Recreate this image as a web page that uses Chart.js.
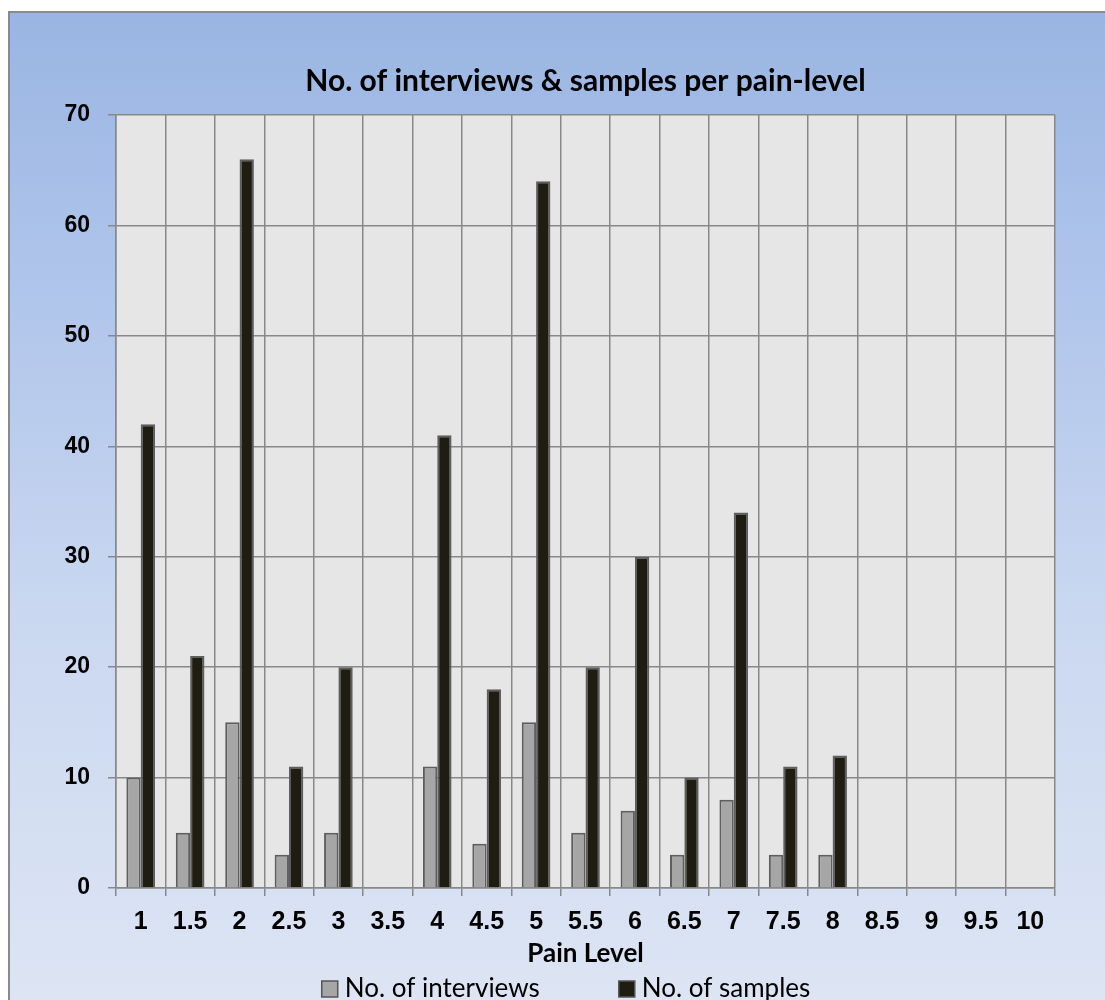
<!DOCTYPE html>
<html lang="en">
<head>
  <meta charset="UTF-8">
  <title>No. of interviews & samples per pain-level</title>
  <script src="https://cdn.jsdelivr.net/npm/chart.js"></script>
  <style>
    html, body { margin: 0; padding: 0; background: #fff; }
    #chart { display: block; }
  </style>
</head>
<body>
  <canvas id="chart" width="1105" height="1000"></canvas>

  <script>
    const painLevels = ['1', '1.5', '2', '2.5', '3', '3.5', '4', '4.5', '5', '5.5',
                        '6', '6.5', '7', '7.5', '8', '8.5', '9', '9.5', '10'];
    const interviews = [10, 5, 15, 3, 5, null, 11, 4, 15, 5, 7, 3, 8, 3, 3, null, null, null, null];
    const samples    = [42, 21, 66, 11, 20, null, 41, 18, 64, 20, 30, 10, 34, 11, 12, null, null, null, null];
    const yMin = 0, yMax = 70, yStep = 10;

    const gridColor = '#888888';

    // frame, gradient backdrop and grey plot area
    const backdrop = {
      id: 'backdrop',
      beforeDraw(chart) {
        const {ctx, chartArea: a} = chart;
        ctx.save();
        const g = ctx.createLinearGradient(0, 12, 0, 1000);
        g.addColorStop(0, '#9ab5e3');
        g.addColorStop(0.3, '#b1c6eb');
        g.addColorStop(0.6, '#c9d7f0');
        g.addColorStop(1, '#dde5f4');
        ctx.fillStyle = g;
        ctx.fillRect(9, 12, chart.width, chart.height);
        ctx.strokeStyle = '#8a8a8a';
        ctx.lineWidth = 2;
        ctx.strokeRect(9, 12, chart.width + 10, chart.height + 10);
        ctx.fillStyle = '#e6e6e6';
        ctx.fillRect(a.left, a.top, a.right - a.left, a.bottom - a.top);
        ctx.restore();
      }
    };

    // legend drawn by hand so the wide gap between items can be kept
    const bottomLegend = {
      id: 'bottomLegend',
      afterDraw(chart) {
        const ctx = chart.ctx;
        const box = 16, gap = 7, between = 79, cy = 989;
        ctx.save();
        ctx.font = '26px Lato';
        ctx.textBaseline = 'middle';
        const items = chart.data.datasets.map(ds => ({
          text: ds.label, fill: ds.backgroundColor, w: box + gap + ctx.measureText(ds.label).width
        }));
        const total = items.reduce((s, it) => s + it.w, 0) + between * (items.length - 1);
        let x = 566 - total / 2;
        items.forEach(it => {
          ctx.fillStyle = it.fill;
          ctx.fillRect(x, cy - box / 2, box, box);
          ctx.strokeStyle = '#555555';
          ctx.lineWidth = 1.5;
          ctx.strokeRect(x, cy - box / 2, box, box);
          ctx.fillStyle = '#000';
          ctx.fillText(it.text, x + box + gap, cy);
          x += it.w + between;
        });
        ctx.restore();
      }
    };

    new Chart(document.getElementById('chart'), {
      type: 'bar',
      data: {
        labels: painLevels,
        datasets: [
          {
            label: 'No. of interviews',
            data: interviews,
            backgroundColor: '#a6a6a6',
            borderColor: '#5e5e5e',
            borderWidth: 2
          },
          {
            label: 'No. of samples',
            data: samples,
            backgroundColor: '#1f1d12',
            borderColor: '#5e5e5e',
            borderWidth: 2
          }
        ]
      },
      options: {
        responsive: false,
        animation: false,
        layout: { padding: { left: 0, right: 50, top: 0, bottom: 31 } },
        datasets: { bar: { categoryPercentage: 0.58, barPercentage: 1.0 } },
        plugins: {
          legend: { display: false },
          tooltip: { enabled: false },
          title: {
            display: true,
            fullSize: false,
            text: 'No. of interviews & samples per pain-level',
            color: '#000',
            font: { family: 'Lato', size: 30, weight: 'bold' },
            padding: { top: 63, bottom: 16 }
          }
        },
        scales: {
          x: {
            afterFit(scale) { scale.height = 81; },
            grid: { color: gridColor, lineWidth: 1.5, tickLength: 8, offset: true },
            border: { color: gridColor, width: 1.5 },
            ticks: {
              color: '#000',
              padding: 11,
              maxRotation: 0,
              autoSkip: false,
              font: { family: 'Liberation Sans', size: 25, weight: 'bold' }
            },
            title: {
              display: true,
              text: 'Pain Level',
              color: '#000',
              padding: { top: 0, bottom: 0 },
              font: { family: 'Lato', size: 26, weight: 'bold' }
            }
          },
          y: {
            min: yMin,
            max: yMax,
            afterFit(scale) { scale.width = 116; },
            grid: { color: gridColor, lineWidth: 1.5, tickLength: 8 },
            border: { color: gridColor, width: 1.5 },
            ticks: {
              stepSize: yStep,
              color: '#000',
              padding: 18,
              font: { family: 'Liberation Sans', size: 23, weight: 'bold' }
            }
          }
        }
      },
      plugins: [backdrop, bottomLegend]
    });
  </script>
</body>
</html>
